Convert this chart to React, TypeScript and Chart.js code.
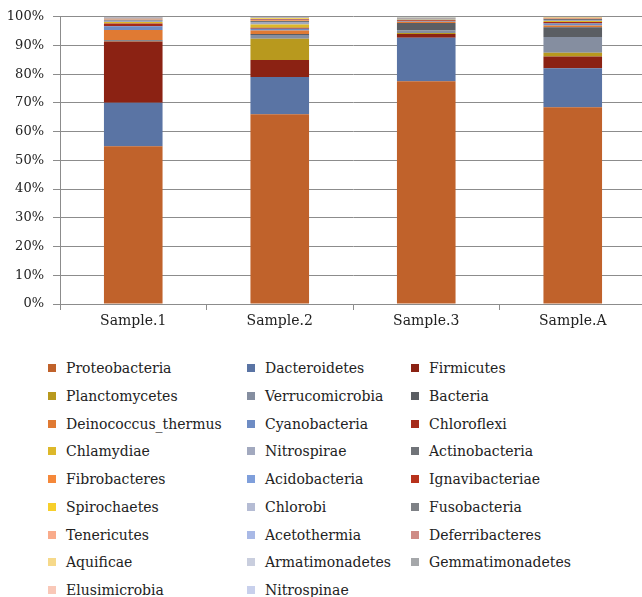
import React, { useEffect, useRef } from 'react';
import { Chart, registerables } from 'chart.js';

Chart.register(...registerables);

const categories = ['Sample.1', 'Sample.2', 'Sample.3', 'Sample.A'];

const phyla = [
  'Proteobacteria', 'Dacteroidetes', 'Firmicutes',
  'Planctomycetes', 'Verrucomicrobia', 'Bacteria',
  'Deinococcus_thermus', 'Cyanobacteria', 'Chloroflexi',
  'Chlamydiae', 'Nitrospirae', 'Actinobacteria',
  'Fibrobacteres', 'Acidobacteria', 'Ignavibacteriae',
  'Spirochaetes', 'Chlorobi', 'Fusobacteria',
  'Tenericutes', 'Acetothermia', 'Deferribacteres',
  'Aquificae', 'Armatimonadetes', 'Gemmatimonadetes',
  'Elusimicrobia', 'Nitrospinae',
];

const colors = [
  '#C0622B', '#5A74A4', '#8B2213',
  '#B8991E', '#858EA0', '#5B5E63',
  '#E07A33', '#6E8CC4', '#A52A1A',
  '#DDB82A', '#A2A9BF', '#707378',
  '#F5883A', '#7F9FDB', '#B8321C',
  '#F7CF2B', '#B5BCD4', '#7E8186',
  '#F9AB8B', '#A9B9E6', '#CE8B85',
  '#F6D98A', '#C9CEDE', '#A5A7AA',
  '#F9C8B8', '#C8D0EC',
];

// percentages per sample, in the order of `phyla`
const sample1 = [54.9, 15.2, 21.3, 0.1, 0.2, 0.2, 3.5, 1.3, 1.0, 0.5, 0.4, 0.3, 0.2, 0.2, 0.1, 0.1, 0.1, 0.05, 0.05, 0.05, 0.05, 0.03, 0.03, 0.03, 0.02, 0.02];
const sample2 = [66.1, 12.9, 6.0, 7.4, 1.3, 0.3, 1.2, 0.6, 0.4, 1.1, 0.9, 0.3, 0.3, 0.2, 0.2, 0.3, 0.1, 0.05, 0.05, 0.05, 0.05, 0.05, 0.03, 0.03, 0.02, 0.02];
const sample3 = [77.6, 15.1, 1.3, 0.4, 0.8, 2.6, 0.5, 0.2, 0.3, 0.2, 0.3, 0.2, 0.1, 0.05, 0.05, 0.05, 0.05, 0.05, 0.03, 0.03, 0.03, 0.02, 0.02, 0.02, 0.01, 0.01];
const sampleA = [68.5, 13.6, 4.1, 1.3, 5.5, 3.4, 0.6, 0.7, 0.5, 0.3, 0.4, 0.3, 0.2, 0.1, 0.1, 0.05, 0.05, 0.05, 0.05, 0.05, 0.03, 0.03, 0.03, 0.02, 0.02, 0.02];

const yMin = 0;
const yMax = 100;
const yStep = 10;

const FONT = "'DejaVu Serif', serif";
const GRID = '#8c8c8c';

export default function App() {
  const ref = useRef<HTMLCanvasElement>(null);

  useEffect(() => {
    const samples = [sample1, sample2, sample3, sampleA];
    const chart = new Chart(ref.current!, {
      type: 'bar',
      data: {
        labels: categories,
        datasets: phyla.map((name, i) => ({
          label: name,
          data: samples.map((s) => s[i]),
          backgroundColor: colors[i],
          borderWidth: 0,
          categoryPercentage: 1,
          barPercentage: 0.4,
        })),
      },
      options: {
        responsive: false,
        animation: false,
        devicePixelRatio: 1,
        layout: { padding: { top: 16, right: 0, bottom: 0, left: 0 } },
        plugins: { legend: { display: false }, tooltip: { enabled: false } },
        scales: {
          x: {
            stacked: true,
            grid: { offset: true, drawOnChartArea: false, drawTicks: true, tickLength: 6, color: GRID },
            border: { color: GRID },
            ticks: { font: { family: FONT, size: 14 }, color: '#222', padding: 3 },
            afterFit: (s: any) => { s.height = 36; },
          },
          y: {
            stacked: true,
            min: yMin,
            max: yMax,
            grid: { color: GRID, tickLength: 7 },
            border: { color: GRID },
            ticks: {
              stepSize: yStep,
              font: { family: FONT, size: 13 },
              color: '#222',
              padding: 9,
              callback: (v: any) => v + '%',
            },
            afterFit: (s: any) => { s.width = 60; },
          },
        },
      },
    });
    return () => chart.destroy();
  }, []);

  const boxX = [48, 247, 411];

  return (
    <div style={{ position: 'fixed', left: 0, top: 0, width: 642, height: 597, overflow: 'hidden', background: '#fff' }}>
      <canvas ref={ref} width={646} height={340} style={{ position: 'absolute', left: 0, top: 0 }} />
      {phyla.map((name, i) => {
        const row = Math.floor(i / 3);
        const col = i % 3;
        const cy = 368 + row * 27.75;
        return (
          <div key={name} style={{ position: 'absolute', left: boxX[col], top: cy - 10, height: 20, display: 'flex', alignItems: 'center', whiteSpace: 'nowrap' }}>
            <span style={{ display: 'inline-block', width: 8, height: 8, background: colors[i], marginRight: 10 }} />
            <span style={{ fontFamily: FONT, fontSize: 14, color: '#222' }}>{name}</span>
          </div>
        );
      })}
    </div>
  );
}
